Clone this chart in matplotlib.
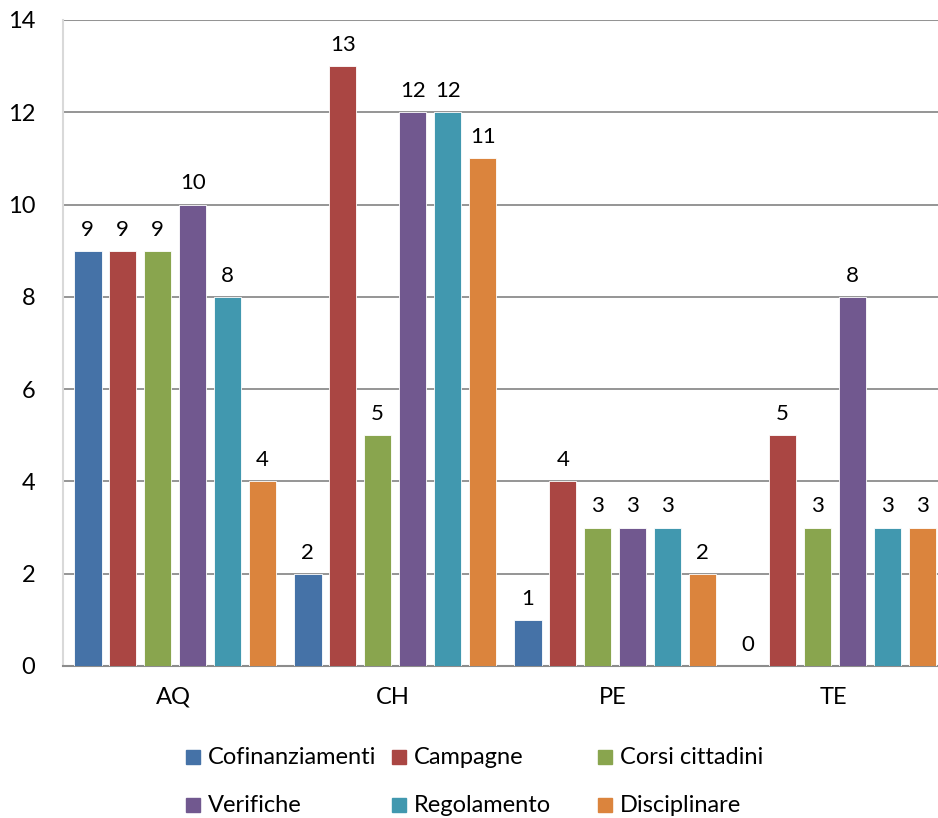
import numpy as np
import matplotlib
matplotlib.use("Agg")
from matplotlib import pyplot as plt
from matplotlib.patches import Rectangle

plt.rcParams['font.family'] = ['Lato', 'DejaVu Sans']

province = ["AQ", "CH", "PE", "TE"]
series = ["Cofinanziamenti", "Campagne", "Corsi cittadini",
          "Verifiche", "Regolamento", "Disciplinare"]
cofinanziamenti = [9, 2, 1, 0]
campagne        = [9, 13, 4, 5]
corsi           = [9, 5, 3, 3]
verifiche       = [10, 12, 3, 8]
regolamento     = [8, 12, 3, 3]
disciplinare    = [4, 11, 2, 3]
colors = ["#4572A7", "#AA4643", "#89A54E", "#71588F", "#4198AF", "#DB843D"]

values = [cofinanziamenti, campagne, corsi, verifiche, regolamento, disciplinare]

W, H = 938, 818
fig = plt.figure(figsize=(W / 100, H / 100), dpi=100)
ax = fig.add_axes([63/W, 1 - 666/H, 880/W, 646/H])

x = np.arange(len(province))
step = 0.159
width = 0.125
for i, (name, vals, c) in enumerate(zip(series, values, colors)):
    pos = x + (i - 2.5) * step + 0.01
    bars = ax.bar(pos, vals, width, color=c, label=name, zorder=3,
                  edgecolor="white", linewidth=0.6)
    for b, v in zip(bars, vals):
        ax.annotate(str(v), (b.get_x() + b.get_width() / 2, v),
                    xytext=(0, 8), textcoords="offset points",
                    ha="center", va="bottom", fontsize=16)

ax.set_xlim(-0.5, 3.5)
ax.set_ylim(0, 14)
ax.set_yticks(range(0, 15, 2))
ax.set_xticks(x)
ax.set_xticklabels(province)
ax.yaxis.grid(True, color="#8c8c8c", linewidth=1.3, zorder=0)
ax.tick_params(axis="y", length=0, pad=20, labelsize=17)
ax.tick_params(axis="x", length=0, pad=15, labelsize=17)

for s in ["top", "right"]:
    ax.spines[s].set_visible(False)
ax.spines["left"].set_color("#d9d9d9")
ax.spines["left"].set_linewidth(1.5)
ax.spines["bottom"].set_color("#8c8c8c")
ax.spines["bottom"].set_linewidth(1.5)
ax.axhline(14, color="#e3e3e3", linewidth=1.5, zorder=1)

# legend, 3 equal columns like the original
for i, (name, c) in enumerate(zip(series, colors)):
    col, row = i % 3, i // 3
    lx = 186 + col * 206
    ly = 757 + row * 48
    fig.patches.append(Rectangle((lx / W, 1 - (ly + 7) / H), 14 / W, 14 / H,
                                 transform=fig.transFigure, color=c))
    fig.text((lx + 22) / W, 1 - ly / H, name, fontsize=17,
             ha="left", va="center")

fig.savefig("out.png", dpi=100)
